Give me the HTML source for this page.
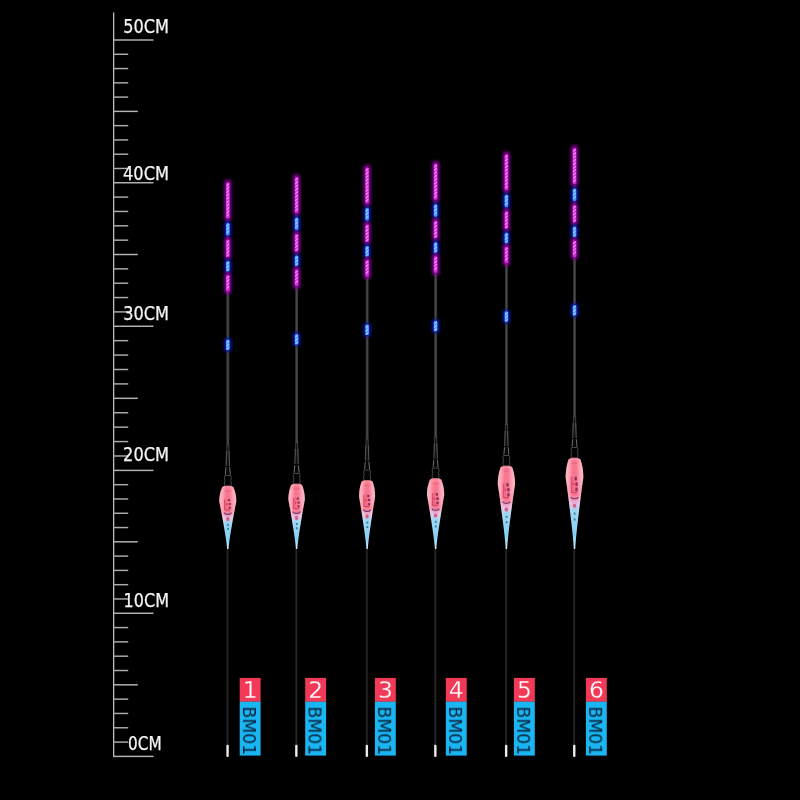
<!DOCTYPE html>
<html><head><meta charset="utf-8"><style>
html,body{margin:0;padding:0;background:#000;width:800px;height:800px;overflow:hidden}
svg{display:block}
text{will-change:transform}
.rl{font-family:"DejaVu Sans","Liberation Sans",sans-serif;font-stretch:condensed;font-size:19px;fill:#f4f4f4;stroke:#f4f4f4;stroke-width:0.25px}
.num{font-family:"DejaVu Sans","Liberation Sans",sans-serif;font-size:23.4px;fill:#fff;stroke:#f23a58;stroke-width:0.3px}
.bm{font-family:"DejaVu Sans","Liberation Sans",sans-serif;font-size:17px;fill:#06213a}
</style></head><body>
<svg width="800" height="800" viewBox="0 0 800 800">
<defs>
<filter id="gl" x="-100%" y="-50%" width="300%" height="200%"><feGaussianBlur stdDeviation="1.4"/></filter>
<filter id="sb" x="-50%" y="-20%" width="200%" height="140%"><feGaussianBlur stdDeviation="0.35"/></filter>
<linearGradient id="stemg" x1="0" y1="0" x2="1" y2="0"><stop offset="0" stop-color="#050505"/><stop offset="0.28" stop-color="#363636"/><stop offset="0.5" stop-color="#4c4c4c"/><stop offset="0.72" stop-color="#3c3c3c"/><stop offset="1" stop-color="#050505"/></linearGradient>
<linearGradient id="tailg" x1="0" y1="0" x2="1" y2="0"><stop offset="0" stop-color="#050505"/><stop offset="0.35" stop-color="#222"/><stop offset="0.55" stop-color="#2a2a2a"/><stop offset="1" stop-color="#050505"/></linearGradient>
<linearGradient id="bodyh" x1="0" y1="0" x2="1" y2="0"><stop offset="0" stop-color="#fff" stop-opacity="0.5"/><stop offset="0.18" stop-color="#fff" stop-opacity="0.38"/><stop offset="0.4" stop-color="#fff" stop-opacity="0.02"/><stop offset="0.6" stop-color="#fff" stop-opacity="0.02"/><stop offset="0.82" stop-color="#fff" stop-opacity="0.38"/><stop offset="1" stop-color="#fff" stop-opacity="0.5"/></linearGradient>
<linearGradient id="bodyg0" x1="0" y1="486" x2="0" y2="549" gradientUnits="userSpaceOnUse"><stop offset="0" stop-color="#f87890"/><stop offset="0.4" stop-color="#f86c88"/><stop offset="0.5" stop-color="#e4b4e0"/><stop offset="0.58" stop-color="#98d4f4"/><stop offset="0.85" stop-color="#84d0f4"/><stop offset="1" stop-color="#d0f0fa"/></linearGradient><linearGradient id="bodyg1" x1="0" y1="484" x2="0" y2="549" gradientUnits="userSpaceOnUse"><stop offset="0" stop-color="#f87890"/><stop offset="0.4" stop-color="#f86c88"/><stop offset="0.5" stop-color="#e4b4e0"/><stop offset="0.58" stop-color="#98d4f4"/><stop offset="0.85" stop-color="#84d0f4"/><stop offset="1" stop-color="#d0f0fa"/></linearGradient><linearGradient id="bodyg2" x1="0" y1="480.5" x2="0" y2="549" gradientUnits="userSpaceOnUse"><stop offset="0" stop-color="#f87890"/><stop offset="0.4" stop-color="#f86c88"/><stop offset="0.5" stop-color="#e4b4e0"/><stop offset="0.58" stop-color="#98d4f4"/><stop offset="0.85" stop-color="#84d0f4"/><stop offset="1" stop-color="#d0f0fa"/></linearGradient><linearGradient id="bodyg3" x1="0" y1="478.5" x2="0" y2="549" gradientUnits="userSpaceOnUse"><stop offset="0" stop-color="#f87890"/><stop offset="0.4" stop-color="#f86c88"/><stop offset="0.5" stop-color="#e4b4e0"/><stop offset="0.58" stop-color="#98d4f4"/><stop offset="0.85" stop-color="#84d0f4"/><stop offset="1" stop-color="#d0f0fa"/></linearGradient><linearGradient id="bodyg4" x1="0" y1="466" x2="0" y2="549" gradientUnits="userSpaceOnUse"><stop offset="0" stop-color="#f87890"/><stop offset="0.4" stop-color="#f86c88"/><stop offset="0.5" stop-color="#e4b4e0"/><stop offset="0.58" stop-color="#98d4f4"/><stop offset="0.85" stop-color="#84d0f4"/><stop offset="1" stop-color="#d0f0fa"/></linearGradient><linearGradient id="bodyg5" x1="0" y1="458" x2="0" y2="549" gradientUnits="userSpaceOnUse"><stop offset="0" stop-color="#f87890"/><stop offset="0.4" stop-color="#f86c88"/><stop offset="0.5" stop-color="#e4b4e0"/><stop offset="0.58" stop-color="#98d4f4"/><stop offset="0.85" stop-color="#84d0f4"/><stop offset="1" stop-color="#d0f0fa"/></linearGradient>
</defs>
<rect width="800" height="800" fill="#000"/>
<rect x="113" y="12.5" width="1.3" height="744.6" fill="#bdbdbd"/>
<rect x="113" y="39.28" width="40.5" height="1.45" fill="#b4b4b4"/>
<rect x="113" y="53.55" width="15.2" height="1.45" fill="#acacac"/>
<rect x="113" y="67.83" width="15.2" height="1.45" fill="#acacac"/>
<rect x="113" y="82.11" width="15.2" height="1.45" fill="#acacac"/>
<rect x="113" y="96.38" width="15.2" height="1.45" fill="#acacac"/>
<rect x="113" y="110.66" width="24.8" height="1.45" fill="#b4b4b4"/>
<rect x="113" y="124.93" width="15.2" height="1.45" fill="#acacac"/>
<rect x="113" y="139.21" width="15.2" height="1.45" fill="#acacac"/>
<rect x="113" y="153.48" width="15.2" height="1.45" fill="#acacac"/>
<rect x="113" y="167.75" width="15.2" height="1.45" fill="#acacac"/>
<rect x="113" y="182.03" width="40.5" height="1.45" fill="#b4b4b4"/>
<rect x="113" y="196.38" width="15.2" height="1.45" fill="#acacac"/>
<rect x="113" y="210.73" width="15.2" height="1.45" fill="#acacac"/>
<rect x="113" y="225.08" width="15.2" height="1.45" fill="#acacac"/>
<rect x="113" y="239.43" width="15.2" height="1.45" fill="#acacac"/>
<rect x="113" y="253.78" width="24.8" height="1.45" fill="#b4b4b4"/>
<rect x="113" y="268.13" width="15.2" height="1.45" fill="#acacac"/>
<rect x="113" y="282.48" width="15.2" height="1.45" fill="#acacac"/>
<rect x="113" y="296.83" width="15.2" height="1.45" fill="#acacac"/>
<rect x="113" y="311.18" width="15.2" height="1.45" fill="#acacac"/>
<rect x="113" y="325.53" width="40.5" height="1.45" fill="#b4b4b4"/>
<rect x="113" y="339.94" width="15.2" height="1.45" fill="#acacac"/>
<rect x="113" y="354.36" width="15.2" height="1.45" fill="#acacac"/>
<rect x="113" y="368.77" width="15.2" height="1.45" fill="#acacac"/>
<rect x="113" y="383.19" width="15.2" height="1.45" fill="#acacac"/>
<rect x="113" y="397.6" width="24.8" height="1.45" fill="#b4b4b4"/>
<rect x="113" y="412.02" width="15.2" height="1.45" fill="#acacac"/>
<rect x="113" y="426.43" width="15.2" height="1.45" fill="#acacac"/>
<rect x="113" y="440.85" width="15.2" height="1.45" fill="#acacac"/>
<rect x="113" y="455.26" width="15.2" height="1.45" fill="#acacac"/>
<rect x="113" y="469.68" width="40.5" height="1.45" fill="#b4b4b4"/>
<rect x="113" y="483.96" width="15.2" height="1.45" fill="#acacac"/>
<rect x="113" y="498.25" width="15.2" height="1.45" fill="#acacac"/>
<rect x="113" y="512.53" width="15.2" height="1.45" fill="#acacac"/>
<rect x="113" y="526.82" width="15.2" height="1.45" fill="#acacac"/>
<rect x="113" y="541.11" width="24.8" height="1.45" fill="#b4b4b4"/>
<rect x="113" y="555.39" width="15.2" height="1.45" fill="#acacac"/>
<rect x="113" y="569.67" width="15.2" height="1.45" fill="#acacac"/>
<rect x="113" y="583.96" width="15.2" height="1.45" fill="#acacac"/>
<rect x="113" y="598.24" width="15.2" height="1.45" fill="#acacac"/>
<rect x="113" y="612.53" width="40.5" height="1.45" fill="#b4b4b4"/>
<rect x="113" y="626.85" width="15.2" height="1.45" fill="#acacac"/>
<rect x="113" y="641.16" width="15.2" height="1.45" fill="#acacac"/>
<rect x="113" y="655.47" width="15.2" height="1.45" fill="#acacac"/>
<rect x="113" y="669.79" width="15.2" height="1.45" fill="#acacac"/>
<rect x="113" y="684.11" width="24.8" height="1.45" fill="#b4b4b4"/>
<rect x="113" y="698.42" width="15.2" height="1.45" fill="#acacac"/>
<rect x="113" y="712.73" width="15.2" height="1.45" fill="#acacac"/>
<rect x="113" y="727.05" width="15.2" height="1.45" fill="#acacac"/>
<rect x="113" y="741.37" width="15.2" height="1.45" fill="#acacac"/>
<rect x="113" y="755.68" width="40.5" height="1.45" fill="#b4b4b4"/>
<text x="123.2" y="33" textLength="45.8" lengthAdjust="spacingAndGlyphs" class="rl">50CM</text>
<text x="123" y="179.5" textLength="46" lengthAdjust="spacingAndGlyphs" class="rl">40CM</text>
<text x="123.2" y="319.5" textLength="45.8" lengthAdjust="spacingAndGlyphs" class="rl">30CM</text>
<text x="123.1" y="460.6" textLength="45.9" lengthAdjust="spacingAndGlyphs" class="rl">20CM</text>
<text x="123.6" y="607.1" textLength="45.4" lengthAdjust="spacingAndGlyphs" class="rl">10CM</text>
<text x="128.1" y="749.6" textLength="33.7" lengthAdjust="spacingAndGlyphs" class="rl">0CM</text>
<g><rect x="226.1" y="549" width="2.8" height="196" fill="url(#tailg)"/><rect x="226.35" y="744.7" width="2.4" height="12.3" rx="1.1" fill="#ecece8"/><rect x="225.9" y="291.5" width="3.8" height="153.5" fill="url(#stemg)"/><rect x="226.5" y="182.5" width="2.6" height="109" fill="#2a1a2a"/><path d="M225.9 444 L229.7 444 L230.1 466 L225.5 466 Z" fill="url(#stemg)"/><path d="M227.4 445 L228.2 445 L229.3 466 L226.3 466 Z" fill="#121212"/><path d="M226.5 451 L226 466 M229.1 451 L229.6 466" stroke="#7a7a7a" stroke-width="0.6" fill="none"/><path d="M225.6 466.4 L230 466.4 L230.6 475 L225 475 Z" fill="#070707"/><path d="M226 467.2 L225.3 474.7 M229.6 467.2 L230.3 474.7" stroke="#9a9a9a" stroke-width="0.7" fill="none"/><path d="M225 475.5 C224.2 476.5 224.2 479.2 225.1 480.3 C224.2 481.4 224.2 484.5 224.8 486.2 L230.8 486.2 C231.4 484.5 231.4 481.4 230.5 480.3 C231.4 479.2 231.4 476.5 230.6 475.5 Z" fill="#030303" stroke="#777" stroke-width="0.6"/><path d="M222.27 487.11 C223 486.2 225.3 485.7 227.8 485.7 C230.3 485.7 232.6 486.2 233.33 487.11 L233.81 488.21 L234.24 489.32 L234.63 490.43 L234.98 491.54 L235.28 492.64 L235.54 493.75 L235.76 494.86 L235.94 495.96 L236.08 497.07 L236.18 498.18 L236.25 499.29 L236.29 500.39 L236.3 501.5 L235.71 504.47 L235.13 507.44 L234.56 510.41 L233.99 513.38 L233.44 516.34 L232.9 519.31 L232.37 522.28 L231.85 525.25 L231.35 528.22 L230.86 531.19 L230.39 534.16 L229.94 537.12 L229.51 540.09 L229.11 543.06 L228.76 546.03 L228.5 549 L227.1 549 L226.84 546.03 L226.49 543.06 L226.09 540.09 L225.66 537.12 L225.21 534.16 L224.74 531.19 L224.25 528.22 L223.75 525.25 L223.23 522.28 L222.7 519.31 L222.16 516.34 L221.61 513.38 L221.04 510.41 L220.47 507.44 L219.89 504.47 L219.3 501.5 L219.31 500.39 L219.35 499.29 L219.42 498.18 L219.52 497.07 L219.66 495.96 L219.84 494.86 L220.06 493.75 L220.32 492.64 L220.62 491.54 L220.97 490.43 L221.36 489.32 L221.79 488.21 Z" fill="url(#bodyg0)"/><path d="M222.27 487.11 C223 486.2 225.3 485.7 227.8 485.7 C230.3 485.7 232.6 486.2 233.33 487.11 L233.81 488.21 L234.24 489.32 L234.63 490.43 L234.98 491.54 L235.28 492.64 L235.54 493.75 L235.76 494.86 L235.94 495.96 L236.08 497.07 L236.18 498.18 L236.25 499.29 L236.29 500.39 L236.3 501.5 L235.71 504.47 L235.13 507.44 L234.56 510.41 L233.99 513.38 L233.44 516.34 L232.9 519.31 L232.37 522.28 L231.85 525.25 L231.35 528.22 L230.86 531.19 L230.39 534.16 L229.94 537.12 L229.51 540.09 L229.11 543.06 L228.76 546.03 L228.5 549 L227.1 549 L226.84 546.03 L226.49 543.06 L226.09 540.09 L225.66 537.12 L225.21 534.16 L224.74 531.19 L224.25 528.22 L223.75 525.25 L223.23 522.28 L222.7 519.31 L222.16 516.34 L221.61 513.38 L221.04 510.41 L220.47 507.44 L219.89 504.47 L219.3 501.5 L219.31 500.39 L219.35 499.29 L219.42 498.18 L219.52 497.07 L219.66 495.96 L219.84 494.86 L220.06 493.75 L220.32 492.64 L220.62 491.54 L220.97 490.43 L221.36 489.32 L221.79 488.21 Z" fill="url(#bodyh)"/><rect x="223.6" y="487.2" width="8.4" height="0.6" fill="#ffd0c0" opacity="0.5"/><rect x="224.8" y="490.6" width="6" height="1.1" fill="#b84858" opacity="0.35"/><rect x="224.4" y="498.6" width="2.6" height="11.34" fill="#f05070" opacity="0.35"/><path d="M224.6 499.6 V509.94 H230.3" stroke="#b02848" stroke-width="0.7" fill="none" opacity="0.8"/><rect x="226" y="503.14" width="1.4" height="2.4" fill="#e02848" opacity="0.7"/><rect x="227.8" y="499.1" width="2.4" height="2.18" rx="0.8" fill="#6a1e50" opacity="0.75"/><rect x="228.6" y="502.88" width="2.4" height="2.18" rx="0.8" fill="#6a1e50" opacity="0.75"/><rect x="228.6" y="506.66" width="2.4" height="2.18" rx="0.8" fill="#6a1e50" opacity="0.75"/><path d="M224 512.72 Q225.8 514.92 227.8 514.32 Q229.8 514.92 231.6 512.72" stroke="#5a1e4e" stroke-width="1.2" fill="none" opacity="0.8"/><ellipse cx="227.8" cy="519.08" rx="1.6" ry="2.1" fill="#e04a64" opacity="0.85"/><rect x="227.1" y="523.8" width="1.8" height="2" fill="#1a5a78" opacity="0.7"/><rect x="227.1" y="527.89" width="1.8" height="2" fill="#1a5a78" opacity="0.7"/><rect x="224.1" y="179.5" width="7.4" height="42" rx="3.7" fill="#9000a0" opacity="0.85" filter="url(#gl)"/><rect x="226" y="182.5" width="3.6" height="36" rx="1.5" fill="#d030d8"/><path d="M226.9 185.6 L228.7 183.8 M226.9 189 L228.7 187.2 M226.9 192.4 L228.7 190.6 M226.9 195.8 L228.7 194 M226.9 199.2 L228.7 197.4 M226.9 202.6 L228.7 200.8 M226.9 206 L228.7 204.2 M226.9 209.4 L228.7 207.6 M226.9 212.8 L228.7 211 M226.9 216.2 L228.7 214.4" stroke="#ffa0ff" stroke-width="1.2" stroke-linecap="round" fill="none" opacity="0.85" filter="url(#sb)"/><rect x="224" y="221" width="7.6" height="16.5" rx="3.8" fill="#0c14b0" opacity="0.9" filter="url(#gl)"/><rect x="226" y="223" width="3.6" height="12.5" rx="1.5" fill="#4896ff"/><path d="M226.9 226.1 L228.7 224.3 M226.9 229.5 L228.7 227.7 M226.9 232.9 L228.7 231.1" stroke="#a8dcff" stroke-width="1.2" stroke-linecap="round" fill="none" opacity="0.85" filter="url(#sb)"/><rect x="224.1" y="236.5" width="7.4" height="23.5" rx="3.7" fill="#9000a0" opacity="0.85" filter="url(#gl)"/><rect x="226" y="239.5" width="3.6" height="17.5" rx="1.5" fill="#d030d8"/><path d="M226.9 242.6 L228.7 240.8 M226.9 246 L228.7 244.2 M226.9 249.4 L228.7 247.6 M226.9 252.8 L228.7 251 M226.9 256.2 L228.7 254.4" stroke="#ffa0ff" stroke-width="1.2" stroke-linecap="round" fill="none" opacity="0.85" filter="url(#sb)"/><rect x="224" y="259" width="7.6" height="14.5" rx="3.8" fill="#0c14b0" opacity="0.9" filter="url(#gl)"/><rect x="226" y="261" width="3.6" height="10.5" rx="1.5" fill="#4896ff"/><path d="M226.9 264.1 L228.7 262.3 M226.9 267.5 L228.7 265.7 M226.9 270.9 L228.7 269.1" stroke="#a8dcff" stroke-width="1.2" stroke-linecap="round" fill="none" opacity="0.85" filter="url(#sb)"/><rect x="224.1" y="272" width="7.4" height="22.5" rx="3.7" fill="#9000a0" opacity="0.85" filter="url(#gl)"/><rect x="226" y="275" width="3.6" height="16.5" rx="1.5" fill="#d030d8"/><path d="M226.9 278.1 L228.7 276.3 M226.9 281.5 L228.7 279.7 M226.9 284.9 L228.7 283.1 M226.9 288.3 L228.7 286.5" stroke="#ffa0ff" stroke-width="1.2" stroke-linecap="round" fill="none" opacity="0.85" filter="url(#sb)"/><rect x="224" y="337.5" width="7.6" height="14.5" rx="3.8" fill="#0c14b0" opacity="0.9" filter="url(#gl)"/><rect x="226" y="339.5" width="3.6" height="10.5" rx="1.5" fill="#4896ff"/><path d="M226.9 342.6 L228.7 340.8 M226.9 346 L228.7 344.2 M226.9 349.4 L228.7 347.6" stroke="#a8dcff" stroke-width="1.2" stroke-linecap="round" fill="none" opacity="0.85" filter="url(#sb)"/></g>
<g><rect x="294.9" y="549" width="2.8" height="196" fill="url(#tailg)"/><rect x="295.15" y="744.7" width="2.4" height="12.3" rx="1.1" fill="#ecece8"/><rect x="294.7" y="286" width="3.8" height="157" fill="url(#stemg)"/><rect x="295.3" y="177" width="2.6" height="109" fill="#2a1a2a"/><path d="M294.7 442 L298.5 442 L298.9 464 L294.3 464 Z" fill="url(#stemg)"/><path d="M296.2 443 L297 443 L298.1 464 L295.1 464 Z" fill="#121212"/><path d="M295.3 449 L294.8 464 M297.9 449 L298.4 464" stroke="#7a7a7a" stroke-width="0.6" fill="none"/><path d="M294.4 464.4 L298.8 464.4 L299.4 473 L293.8 473 Z" fill="#070707"/><path d="M294.8 465.2 L294.1 472.7 M298.4 465.2 L299.1 472.7" stroke="#9a9a9a" stroke-width="0.7" fill="none"/><path d="M293.8 473.5 C293 474.5 293 477.2 293.9 478.3 C293 479.4 293 482.5 293.6 484.2 L299.6 484.2 C300.2 482.5 300.2 479.4 299.3 478.3 C300.2 477.2 300.2 474.5 299.4 473.5 Z" fill="#030303" stroke="#777" stroke-width="0.6"/><path d="M291.09 485.13 C291.77 484.2 294.1 483.7 296.6 483.7 C299.1 483.7 301.43 484.2 302.11 485.13 L302.54 486.26 L302.94 487.39 L303.29 488.51 L303.6 489.64 L303.87 490.77 L304.11 491.9 L304.31 493.03 L304.47 494.16 L304.6 495.29 L304.69 496.41 L304.76 497.54 L304.79 498.67 L304.8 499.8 L304.23 502.88 L303.67 505.95 L303.12 509.03 L302.58 512.1 L302.05 515.17 L301.53 518.25 L301.02 521.33 L300.52 524.4 L300.03 527.48 L299.56 530.55 L299.11 533.62 L298.68 536.7 L298.27 539.77 L297.89 542.85 L297.55 545.92 L297.3 549 L295.9 549 L295.65 545.92 L295.31 542.85 L294.93 539.77 L294.52 536.7 L294.09 533.62 L293.64 530.55 L293.17 527.48 L292.68 524.4 L292.18 521.33 L291.67 518.25 L291.15 515.17 L290.62 512.1 L290.08 509.03 L289.53 505.95 L288.97 502.88 L288.4 499.8 L288.41 498.67 L288.44 497.54 L288.51 496.41 L288.6 495.29 L288.73 494.16 L288.89 493.03 L289.09 491.9 L289.33 490.77 L289.6 489.64 L289.91 488.51 L290.26 487.39 L290.66 486.26 Z" fill="url(#bodyg1)"/><path d="M291.09 485.13 C291.77 484.2 294.1 483.7 296.6 483.7 C299.1 483.7 301.43 484.2 302.11 485.13 L302.54 486.26 L302.94 487.39 L303.29 488.51 L303.6 489.64 L303.87 490.77 L304.11 491.9 L304.31 493.03 L304.47 494.16 L304.6 495.29 L304.69 496.41 L304.76 497.54 L304.79 498.67 L304.8 499.8 L304.23 502.88 L303.67 505.95 L303.12 509.03 L302.58 512.1 L302.05 515.17 L301.53 518.25 L301.02 521.33 L300.52 524.4 L300.03 527.48 L299.56 530.55 L299.11 533.62 L298.68 536.7 L298.27 539.77 L297.89 542.85 L297.55 545.92 L297.3 549 L295.9 549 L295.65 545.92 L295.31 542.85 L294.93 539.77 L294.52 536.7 L294.09 533.62 L293.64 530.55 L293.17 527.48 L292.68 524.4 L292.18 521.33 L291.67 518.25 L291.15 515.17 L290.62 512.1 L290.08 509.03 L289.53 505.95 L288.97 502.88 L288.4 499.8 L288.41 498.67 L288.44 497.54 L288.51 496.41 L288.6 495.29 L288.73 494.16 L288.89 493.03 L289.09 491.9 L289.33 490.77 L289.6 489.64 L289.91 488.51 L290.26 487.39 L290.66 486.26 Z" fill="url(#bodyh)"/><rect x="292.37" y="485.2" width="8.46" height="0.6" fill="#ffd0c0" opacity="0.5"/><rect x="293.6" y="488.6" width="6" height="1.1" fill="#b84858" opacity="0.35"/><rect x="293.2" y="497" width="2.6" height="11.7" fill="#f05070" opacity="0.35"/><path d="M293.4 498 V508.7 H299.1" stroke="#b02848" stroke-width="0.7" fill="none" opacity="0.8"/><rect x="294.8" y="501.68" width="1.4" height="2.4" fill="#e02848" opacity="0.7"/><rect x="296.6" y="497.5" width="2.4" height="2.3" rx="0.8" fill="#6a1e50" opacity="0.75"/><rect x="297.4" y="501.4" width="2.4" height="2.3" rx="0.8" fill="#6a1e50" opacity="0.75"/><rect x="297.4" y="505.3" width="2.4" height="2.3" rx="0.8" fill="#6a1e50" opacity="0.75"/><path d="M292.8 511.6 Q294.6 513.8 296.6 513.2 Q298.6 513.8 300.4 511.6" stroke="#5a1e4e" stroke-width="1.2" fill="none" opacity="0.8"/><ellipse cx="296.6" cy="518.12" rx="1.6" ry="2.1" fill="#e04a64" opacity="0.85"/><rect x="295.9" y="523" width="1.8" height="2" fill="#1a5a78" opacity="0.7"/><rect x="295.9" y="527.23" width="1.8" height="2" fill="#1a5a78" opacity="0.7"/><rect x="292.9" y="174" width="7.4" height="42" rx="3.7" fill="#9000a0" opacity="0.85" filter="url(#gl)"/><rect x="294.8" y="177" width="3.6" height="36" rx="1.5" fill="#d030d8"/><path d="M295.7 180.1 L297.5 178.3 M295.7 183.5 L297.5 181.7 M295.7 186.9 L297.5 185.1 M295.7 190.3 L297.5 188.5 M295.7 193.7 L297.5 191.9 M295.7 197.1 L297.5 195.3 M295.7 200.5 L297.5 198.7 M295.7 203.9 L297.5 202.1 M295.7 207.3 L297.5 205.5 M295.7 210.7 L297.5 208.9" stroke="#ffa0ff" stroke-width="1.2" stroke-linecap="round" fill="none" opacity="0.85" filter="url(#sb)"/><rect x="292.8" y="215.5" width="7.6" height="16.5" rx="3.8" fill="#0c14b0" opacity="0.9" filter="url(#gl)"/><rect x="294.8" y="217.5" width="3.6" height="12.5" rx="1.5" fill="#4896ff"/><path d="M295.7 220.6 L297.5 218.8 M295.7 224 L297.5 222.2 M295.7 227.4 L297.5 225.6" stroke="#a8dcff" stroke-width="1.2" stroke-linecap="round" fill="none" opacity="0.85" filter="url(#sb)"/><rect x="292.9" y="231" width="7.4" height="23.5" rx="3.7" fill="#9000a0" opacity="0.85" filter="url(#gl)"/><rect x="294.8" y="234" width="3.6" height="17.5" rx="1.5" fill="#d030d8"/><path d="M295.7 237.1 L297.5 235.3 M295.7 240.5 L297.5 238.7 M295.7 243.9 L297.5 242.1 M295.7 247.3 L297.5 245.5 M295.7 250.7 L297.5 248.9" stroke="#ffa0ff" stroke-width="1.2" stroke-linecap="round" fill="none" opacity="0.85" filter="url(#sb)"/><rect x="292.8" y="253.5" width="7.6" height="14.5" rx="3.8" fill="#0c14b0" opacity="0.9" filter="url(#gl)"/><rect x="294.8" y="255.5" width="3.6" height="10.5" rx="1.5" fill="#4896ff"/><path d="M295.7 258.6 L297.5 256.8 M295.7 262 L297.5 260.2 M295.7 265.4 L297.5 263.6" stroke="#a8dcff" stroke-width="1.2" stroke-linecap="round" fill="none" opacity="0.85" filter="url(#sb)"/><rect x="292.9" y="266.5" width="7.4" height="22.5" rx="3.7" fill="#9000a0" opacity="0.85" filter="url(#gl)"/><rect x="294.8" y="269.5" width="3.6" height="16.5" rx="1.5" fill="#d030d8"/><path d="M295.7 272.6 L297.5 270.8 M295.7 276 L297.5 274.2 M295.7 279.4 L297.5 277.6 M295.7 282.8 L297.5 281" stroke="#ffa0ff" stroke-width="1.2" stroke-linecap="round" fill="none" opacity="0.85" filter="url(#sb)"/><rect x="292.8" y="332" width="7.6" height="14.5" rx="3.8" fill="#0c14b0" opacity="0.9" filter="url(#gl)"/><rect x="294.8" y="334" width="3.6" height="10.5" rx="1.5" fill="#4896ff"/><path d="M295.7 337.1 L297.5 335.3 M295.7 340.5 L297.5 338.7 M295.7 343.9 L297.5 342.1" stroke="#a8dcff" stroke-width="1.2" stroke-linecap="round" fill="none" opacity="0.85" filter="url(#sb)"/></g>
<g><rect x="365.4" y="549" width="2.8" height="196" fill="url(#tailg)"/><rect x="365.65" y="744.7" width="2.4" height="12.3" rx="1.1" fill="#ecece8"/><rect x="365.2" y="276.5" width="3.8" height="163" fill="url(#stemg)"/><rect x="365.8" y="167.5" width="2.6" height="109" fill="#2a1a2a"/><path d="M365.2 438.5 L369 438.5 L369.4 460.5 L364.8 460.5 Z" fill="url(#stemg)"/><path d="M366.7 439.5 L367.5 439.5 L368.6 460.5 L365.6 460.5 Z" fill="#121212"/><path d="M365.8 445.5 L365.3 460.5 M368.4 445.5 L368.9 460.5" stroke="#7a7a7a" stroke-width="0.6" fill="none"/><path d="M364.9 460.9 L369.3 460.9 L369.9 469.5 L364.3 469.5 Z" fill="#070707"/><path d="M365.3 461.7 L364.6 469.2 M368.9 461.7 L369.6 469.2" stroke="#9a9a9a" stroke-width="0.7" fill="none"/><path d="M364.3 470 C363.5 471 363.5 473.7 364.4 474.8 C363.5 475.9 363.5 479 364.1 480.7 L370.1 480.7 C370.7 479 370.7 475.9 369.8 474.8 C370.7 473.7 370.7 471 369.9 470 Z" fill="#030303" stroke="#777" stroke-width="0.6"/><path d="M361.58 481.67 C362.22 480.7 364.6 480.2 367.1 480.2 C369.6 480.2 371.98 480.7 372.62 481.67 L373.02 482.83 L373.38 484 L373.71 485.16 L374 486.33 L374.25 487.5 L374.47 488.66 L374.65 489.83 L374.8 490.99 L374.91 492.16 L375 493.33 L375.06 494.49 L375.09 495.66 L375.1 496.82 L374.55 500.09 L374 503.35 L373.47 506.61 L372.94 509.87 L372.42 513.13 L371.91 516.39 L371.42 519.65 L370.93 522.91 L370.46 526.17 L370 529.43 L369.56 532.7 L369.14 535.96 L368.74 539.22 L368.37 542.48 L368.04 545.74 L367.8 549 L366.4 549 L366.16 545.74 L365.83 542.48 L365.46 539.22 L365.06 535.96 L364.64 532.7 L364.2 529.43 L363.74 526.17 L363.27 522.91 L362.78 519.65 L362.29 516.39 L361.78 513.13 L361.26 509.87 L360.73 506.61 L360.2 503.35 L359.65 500.09 L359.1 496.82 L359.11 495.66 L359.14 494.49 L359.2 493.33 L359.29 492.16 L359.4 490.99 L359.55 489.83 L359.73 488.66 L359.95 487.5 L360.2 486.33 L360.49 485.16 L360.82 484 L361.18 482.83 Z" fill="url(#bodyg2)"/><path d="M361.58 481.67 C362.22 480.7 364.6 480.2 367.1 480.2 C369.6 480.2 371.98 480.7 372.62 481.67 L373.02 482.83 L373.38 484 L373.71 485.16 L374 486.33 L374.25 487.5 L374.47 488.66 L374.65 489.83 L374.8 490.99 L374.91 492.16 L375 493.33 L375.06 494.49 L375.09 495.66 L375.1 496.82 L374.55 500.09 L374 503.35 L373.47 506.61 L372.94 509.87 L372.42 513.13 L371.91 516.39 L371.42 519.65 L370.93 522.91 L370.46 526.17 L370 529.43 L369.56 532.7 L369.14 535.96 L368.74 539.22 L368.37 542.48 L368.04 545.74 L367.8 549 L366.4 549 L366.16 545.74 L365.83 542.48 L365.46 539.22 L365.06 535.96 L364.64 532.7 L364.2 529.43 L363.74 526.17 L363.27 522.91 L362.78 519.65 L362.29 516.39 L361.78 513.13 L361.26 509.87 L360.73 506.61 L360.2 503.35 L359.65 500.09 L359.1 496.82 L359.11 495.66 L359.14 494.49 L359.2 493.33 L359.29 492.16 L359.4 490.99 L359.55 489.83 L359.73 488.66 L359.95 487.5 L360.2 486.33 L360.49 485.16 L360.82 484 L361.18 482.83 Z" fill="url(#bodyh)"/><rect x="362.82" y="481.7" width="8.56" height="0.6" fill="#ffd0c0" opacity="0.5"/><rect x="364.1" y="485.1" width="6" height="1.1" fill="#b84858" opacity="0.35"/><rect x="363.7" y="494.2" width="2.6" height="12.33" fill="#f05070" opacity="0.35"/><path d="M363.9 495.2 V506.53 H369.6" stroke="#b02848" stroke-width="0.7" fill="none" opacity="0.8"/><rect x="365.3" y="499.13" width="1.4" height="2.4" fill="#e02848" opacity="0.7"/><rect x="367.1" y="494.7" width="2.4" height="2.51" rx="0.8" fill="#6a1e50" opacity="0.75"/><rect x="367.9" y="498.81" width="2.4" height="2.51" rx="0.8" fill="#6a1e50" opacity="0.75"/><rect x="367.9" y="502.92" width="2.4" height="2.51" rx="0.8" fill="#6a1e50" opacity="0.75"/><path d="M363.3 509.64 Q365.1 511.84 367.1 511.24 Q369.1 511.84 370.9 509.64" stroke="#5a1e4e" stroke-width="1.2" fill="none" opacity="0.8"/><ellipse cx="367.1" cy="516.46" rx="1.6" ry="2.1" fill="#e04a64" opacity="0.85"/><rect x="366.4" y="521.6" width="1.8" height="2" fill="#1a5a78" opacity="0.7"/><rect x="366.4" y="526.05" width="1.8" height="2" fill="#1a5a78" opacity="0.7"/><rect x="363.4" y="164.5" width="7.4" height="42" rx="3.7" fill="#9000a0" opacity="0.85" filter="url(#gl)"/><rect x="365.3" y="167.5" width="3.6" height="36" rx="1.5" fill="#d030d8"/><path d="M366.2 170.6 L368 168.8 M366.2 174 L368 172.2 M366.2 177.4 L368 175.6 M366.2 180.8 L368 179 M366.2 184.2 L368 182.4 M366.2 187.6 L368 185.8 M366.2 191 L368 189.2 M366.2 194.4 L368 192.6 M366.2 197.8 L368 196 M366.2 201.2 L368 199.4" stroke="#ffa0ff" stroke-width="1.2" stroke-linecap="round" fill="none" opacity="0.85" filter="url(#sb)"/><rect x="363.3" y="206" width="7.6" height="16.5" rx="3.8" fill="#0c14b0" opacity="0.9" filter="url(#gl)"/><rect x="365.3" y="208" width="3.6" height="12.5" rx="1.5" fill="#4896ff"/><path d="M366.2 211.1 L368 209.3 M366.2 214.5 L368 212.7 M366.2 217.9 L368 216.1" stroke="#a8dcff" stroke-width="1.2" stroke-linecap="round" fill="none" opacity="0.85" filter="url(#sb)"/><rect x="363.4" y="221.5" width="7.4" height="23.5" rx="3.7" fill="#9000a0" opacity="0.85" filter="url(#gl)"/><rect x="365.3" y="224.5" width="3.6" height="17.5" rx="1.5" fill="#d030d8"/><path d="M366.2 227.6 L368 225.8 M366.2 231 L368 229.2 M366.2 234.4 L368 232.6 M366.2 237.8 L368 236 M366.2 241.2 L368 239.4" stroke="#ffa0ff" stroke-width="1.2" stroke-linecap="round" fill="none" opacity="0.85" filter="url(#sb)"/><rect x="363.3" y="244" width="7.6" height="14.5" rx="3.8" fill="#0c14b0" opacity="0.9" filter="url(#gl)"/><rect x="365.3" y="246" width="3.6" height="10.5" rx="1.5" fill="#4896ff"/><path d="M366.2 249.1 L368 247.3 M366.2 252.5 L368 250.7 M366.2 255.9 L368 254.1" stroke="#a8dcff" stroke-width="1.2" stroke-linecap="round" fill="none" opacity="0.85" filter="url(#sb)"/><rect x="363.4" y="257" width="7.4" height="22.5" rx="3.7" fill="#9000a0" opacity="0.85" filter="url(#gl)"/><rect x="365.3" y="260" width="3.6" height="16.5" rx="1.5" fill="#d030d8"/><path d="M366.2 263.1 L368 261.3 M366.2 266.5 L368 264.7 M366.2 269.9 L368 268.1 M366.2 273.3 L368 271.5" stroke="#ffa0ff" stroke-width="1.2" stroke-linecap="round" fill="none" opacity="0.85" filter="url(#sb)"/><rect x="363.3" y="322.5" width="7.6" height="14.5" rx="3.8" fill="#0c14b0" opacity="0.9" filter="url(#gl)"/><rect x="365.3" y="324.5" width="3.6" height="10.5" rx="1.5" fill="#4896ff"/><path d="M366.2 327.6 L368 325.8 M366.2 331 L368 329.2 M366.2 334.4 L368 332.6" stroke="#a8dcff" stroke-width="1.2" stroke-linecap="round" fill="none" opacity="0.85" filter="url(#sb)"/></g>
<g><rect x="433.9" y="549" width="2.8" height="196" fill="url(#tailg)"/><rect x="434.15" y="744.7" width="2.4" height="12.3" rx="1.1" fill="#ecece8"/><rect x="433.7" y="272.75" width="3.8" height="164.75" fill="url(#stemg)"/><rect x="434.3" y="163.75" width="2.6" height="109" fill="#2a1a2a"/><path d="M433.7 436.5 L437.5 436.5 L437.9 458.5 L433.3 458.5 Z" fill="url(#stemg)"/><path d="M435.2 437.5 L436 437.5 L437.1 458.5 L434.1 458.5 Z" fill="#121212"/><path d="M434.3 443.5 L433.8 458.5 M436.9 443.5 L437.4 458.5" stroke="#7a7a7a" stroke-width="0.6" fill="none"/><path d="M433.4 458.9 L437.8 458.9 L438.4 467.5 L432.8 467.5 Z" fill="#070707"/><path d="M433.8 459.7 L433.1 467.2 M437.4 459.7 L438.1 467.2" stroke="#9a9a9a" stroke-width="0.7" fill="none"/><path d="M432.8 468 C432 469 432 471.7 432.9 472.8 C432 473.9 432 477 432.6 478.7 L438.6 478.7 C439.2 477 439.2 473.9 438.3 472.8 C439.2 471.7 439.2 469 438.4 468 Z" fill="#030303" stroke="#777" stroke-width="0.6"/><path d="M429.96 479.69 C430.69 478.7 433.1 478.2 435.6 478.2 C438.1 478.2 440.51 478.7 441.24 479.69 L441.72 480.88 L442.15 482.06 L442.54 483.25 L442.88 484.44 L443.18 485.62 L443.44 486.81 L443.66 488 L443.84 489.19 L443.98 490.38 L444.08 491.56 L444.15 492.75 L444.19 493.94 L444.2 495.12 L443.6 498.49 L443.01 501.86 L442.43 505.23 L441.86 508.59 L441.3 511.96 L440.76 515.33 L440.22 518.7 L439.69 522.06 L439.18 525.43 L438.69 528.8 L438.21 532.16 L437.75 535.53 L437.32 538.9 L436.92 542.27 L436.56 545.63 L436.3 549 L434.9 549 L434.64 545.63 L434.28 542.27 L433.88 538.9 L433.45 535.53 L432.99 532.16 L432.51 528.8 L432.02 525.43 L431.51 522.06 L430.98 518.7 L430.44 515.33 L429.9 511.96 L429.34 508.59 L428.77 505.23 L428.19 501.86 L427.6 498.49 L427 495.12 L427.01 493.94 L427.05 492.75 L427.12 491.56 L427.22 490.38 L427.36 489.19 L427.54 488 L427.76 486.81 L428.02 485.62 L428.32 484.44 L428.66 483.25 L429.05 482.06 L429.48 480.88 Z" fill="url(#bodyg3)"/><path d="M429.96 479.69 C430.69 478.7 433.1 478.2 435.6 478.2 C438.1 478.2 440.51 478.7 441.24 479.69 L441.72 480.88 L442.15 482.06 L442.54 483.25 L442.88 484.44 L443.18 485.62 L443.44 486.81 L443.66 488 L443.84 489.19 L443.98 490.38 L444.08 491.56 L444.15 492.75 L444.19 493.94 L444.2 495.12 L443.6 498.49 L443.01 501.86 L442.43 505.23 L441.86 508.59 L441.3 511.96 L440.76 515.33 L440.22 518.7 L439.69 522.06 L439.18 525.43 L438.69 528.8 L438.21 532.16 L437.75 535.53 L437.32 538.9 L436.92 542.27 L436.56 545.63 L436.3 549 L434.9 549 L434.64 545.63 L434.28 542.27 L433.88 538.9 L433.45 535.53 L432.99 532.16 L432.51 528.8 L432.02 525.43 L431.51 522.06 L430.98 518.7 L430.44 515.33 L429.9 511.96 L429.34 508.59 L428.77 505.23 L428.19 501.86 L427.6 498.49 L427 495.12 L427.01 493.94 L427.05 492.75 L427.12 491.56 L427.22 490.38 L427.36 489.19 L427.54 488 L427.76 486.81 L428.02 485.62 L428.32 484.44 L428.66 483.25 L429.05 482.06 L429.48 480.88 Z" fill="url(#bodyh)"/><rect x="431.29" y="479.7" width="8.62" height="0.6" fill="#ffd0c0" opacity="0.5"/><rect x="432.6" y="483.1" width="6" height="1.1" fill="#b84858" opacity="0.35"/><rect x="432.2" y="492.6" width="2.6" height="12.69" fill="#f05070" opacity="0.35"/><path d="M432.4 493.6 V505.29 H438.1" stroke="#b02848" stroke-width="0.7" fill="none" opacity="0.8"/><rect x="433.8" y="497.68" width="1.4" height="2.4" fill="#e02848" opacity="0.7"/><rect x="435.6" y="493.1" width="2.4" height="2.63" rx="0.8" fill="#6a1e50" opacity="0.75"/><rect x="436.4" y="497.33" width="2.4" height="2.63" rx="0.8" fill="#6a1e50" opacity="0.75"/><rect x="436.4" y="501.56" width="2.4" height="2.63" rx="0.8" fill="#6a1e50" opacity="0.75"/><path d="M431.8 508.52 Q433.6 510.72 435.6 510.12 Q437.6 510.72 439.4 508.52" stroke="#5a1e4e" stroke-width="1.2" fill="none" opacity="0.8"/><ellipse cx="435.6" cy="515.51" rx="1.6" ry="2.1" fill="#e04a64" opacity="0.85"/><rect x="434.9" y="520.8" width="1.8" height="2" fill="#1a5a78" opacity="0.7"/><rect x="434.9" y="525.38" width="1.8" height="2" fill="#1a5a78" opacity="0.7"/><rect x="431.9" y="160.75" width="7.4" height="42" rx="3.7" fill="#9000a0" opacity="0.85" filter="url(#gl)"/><rect x="433.8" y="163.75" width="3.6" height="36" rx="1.5" fill="#d030d8"/><path d="M434.7 166.85 L436.5 165.05 M434.7 170.25 L436.5 168.45 M434.7 173.65 L436.5 171.85 M434.7 177.05 L436.5 175.25 M434.7 180.45 L436.5 178.65 M434.7 183.85 L436.5 182.05 M434.7 187.25 L436.5 185.45 M434.7 190.65 L436.5 188.85 M434.7 194.05 L436.5 192.25 M434.7 197.45 L436.5 195.65" stroke="#ffa0ff" stroke-width="1.2" stroke-linecap="round" fill="none" opacity="0.85" filter="url(#sb)"/><rect x="431.8" y="202.25" width="7.6" height="16.5" rx="3.8" fill="#0c14b0" opacity="0.9" filter="url(#gl)"/><rect x="433.8" y="204.25" width="3.6" height="12.5" rx="1.5" fill="#4896ff"/><path d="M434.7 207.35 L436.5 205.55 M434.7 210.75 L436.5 208.95 M434.7 214.15 L436.5 212.35" stroke="#a8dcff" stroke-width="1.2" stroke-linecap="round" fill="none" opacity="0.85" filter="url(#sb)"/><rect x="431.9" y="217.75" width="7.4" height="23.5" rx="3.7" fill="#9000a0" opacity="0.85" filter="url(#gl)"/><rect x="433.8" y="220.75" width="3.6" height="17.5" rx="1.5" fill="#d030d8"/><path d="M434.7 223.85 L436.5 222.05 M434.7 227.25 L436.5 225.45 M434.7 230.65 L436.5 228.85 M434.7 234.05 L436.5 232.25 M434.7 237.45 L436.5 235.65" stroke="#ffa0ff" stroke-width="1.2" stroke-linecap="round" fill="none" opacity="0.85" filter="url(#sb)"/><rect x="431.8" y="240.25" width="7.6" height="14.5" rx="3.8" fill="#0c14b0" opacity="0.9" filter="url(#gl)"/><rect x="433.8" y="242.25" width="3.6" height="10.5" rx="1.5" fill="#4896ff"/><path d="M434.7 245.35 L436.5 243.55 M434.7 248.75 L436.5 246.95 M434.7 252.15 L436.5 250.35" stroke="#a8dcff" stroke-width="1.2" stroke-linecap="round" fill="none" opacity="0.85" filter="url(#sb)"/><rect x="431.9" y="253.25" width="7.4" height="22.5" rx="3.7" fill="#9000a0" opacity="0.85" filter="url(#gl)"/><rect x="433.8" y="256.25" width="3.6" height="16.5" rx="1.5" fill="#d030d8"/><path d="M434.7 259.35 L436.5 257.55 M434.7 262.75 L436.5 260.95 M434.7 266.15 L436.5 264.35 M434.7 269.55 L436.5 267.75" stroke="#ffa0ff" stroke-width="1.2" stroke-linecap="round" fill="none" opacity="0.85" filter="url(#sb)"/><rect x="431.8" y="318.75" width="7.6" height="14.5" rx="3.8" fill="#0c14b0" opacity="0.9" filter="url(#gl)"/><rect x="433.8" y="320.75" width="3.6" height="10.5" rx="1.5" fill="#4896ff"/><path d="M434.7 323.85 L436.5 322.05 M434.7 327.25 L436.5 325.45 M434.7 330.65 L436.5 328.85" stroke="#a8dcff" stroke-width="1.2" stroke-linecap="round" fill="none" opacity="0.85" filter="url(#sb)"/></g>
<g><rect x="504.7" y="549" width="2.8" height="196" fill="url(#tailg)"/><rect x="504.95" y="744.7" width="2.4" height="12.3" rx="1.1" fill="#ecece8"/><rect x="504.5" y="263.25" width="3.8" height="161.75" fill="url(#stemg)"/><rect x="505.1" y="154.25" width="2.6" height="109" fill="#2a1a2a"/><path d="M504.5 424 L508.3 424 L508.7 446 L504.1 446 Z" fill="url(#stemg)"/><path d="M506 425 L506.8 425 L507.9 446 L504.9 446 Z" fill="#121212"/><path d="M505.1 431 L504.6 446 M507.7 431 L508.2 446" stroke="#7a7a7a" stroke-width="0.6" fill="none"/><path d="M504.2 446.4 L508.6 446.4 L509.2 455 L503.6 455 Z" fill="#070707"/><path d="M504.6 447.2 L503.9 454.7 M508.2 447.2 L508.9 454.7" stroke="#9a9a9a" stroke-width="0.7" fill="none"/><path d="M503.6 455.5 C502.8 456.5 502.8 459.2 503.7 460.3 C502.8 461.4 502.8 464.5 503.4 466.2 L509.4 466.2 C510 464.5 510 461.4 509.1 460.3 C510 459.2 510 456.5 509.2 455.5 Z" fill="#030303" stroke="#777" stroke-width="0.6"/><path d="M500.6 467.32 C501.3 466.2 503.9 465.7 506.4 465.7 C508.9 465.7 511.5 466.2 512.2 467.32 L512.65 468.64 L513.06 469.96 L513.43 471.29 L513.75 472.61 L514.04 473.93 L514.28 475.25 L514.49 476.57 L514.66 477.89 L514.79 479.21 L514.89 480.54 L514.95 481.86 L514.99 483.18 L515 484.5 L514.4 488.53 L513.81 492.56 L513.23 496.59 L512.66 500.62 L512.1 504.66 L511.56 508.69 L511.02 512.72 L510.49 516.75 L509.98 520.78 L509.49 524.81 L509.01 528.84 L508.55 532.88 L508.12 536.91 L507.72 540.94 L507.36 544.97 L507.1 549 L505.7 549 L505.44 544.97 L505.08 540.94 L504.68 536.91 L504.25 532.88 L503.79 528.84 L503.31 524.81 L502.82 520.78 L502.31 516.75 L501.78 512.72 L501.24 508.69 L500.7 504.66 L500.14 500.62 L499.57 496.59 L498.99 492.56 L498.4 488.53 L497.8 484.5 L497.81 483.18 L497.85 481.86 L497.91 480.54 L498.01 479.21 L498.14 477.89 L498.31 476.57 L498.52 475.25 L498.76 473.93 L499.05 472.61 L499.37 471.29 L499.74 469.96 L500.15 468.64 Z" fill="url(#bodyg4)"/><path d="M500.6 467.32 C501.3 466.2 503.9 465.7 506.4 465.7 C508.9 465.7 511.5 466.2 512.2 467.32 L512.65 468.64 L513.06 469.96 L513.43 471.29 L513.75 472.61 L514.04 473.93 L514.28 475.25 L514.49 476.57 L514.66 477.89 L514.79 479.21 L514.89 480.54 L514.95 481.86 L514.99 483.18 L515 484.5 L514.4 488.53 L513.81 492.56 L513.23 496.59 L512.66 500.62 L512.1 504.66 L511.56 508.69 L511.02 512.72 L510.49 516.75 L509.98 520.78 L509.49 524.81 L509.01 528.84 L508.55 532.88 L508.12 536.91 L507.72 540.94 L507.36 544.97 L507.1 549 L505.7 549 L505.44 544.97 L505.08 540.94 L504.68 536.91 L504.25 532.88 L503.79 528.84 L503.31 524.81 L502.82 520.78 L502.31 516.75 L501.78 512.72 L501.24 508.69 L500.7 504.66 L500.14 500.62 L499.57 496.59 L498.99 492.56 L498.4 488.53 L497.8 484.5 L497.81 483.18 L497.85 481.86 L497.91 480.54 L498.01 479.21 L498.14 477.89 L498.31 476.57 L498.52 475.25 L498.76 473.93 L499.05 472.61 L499.37 471.29 L499.74 469.96 L500.15 468.64 Z" fill="url(#bodyh)"/><rect x="501.9" y="467.2" width="9" height="0.6" fill="#ffd0c0" opacity="0.5"/><rect x="503.4" y="470.6" width="6" height="1.1" fill="#b84858" opacity="0.35"/><rect x="503" y="482.6" width="2.6" height="14.94" fill="#f05070" opacity="0.35"/><path d="M503.2 483.6 V497.54 H508.9" stroke="#b02848" stroke-width="0.7" fill="none" opacity="0.8"/><rect x="504.6" y="488.58" width="1.4" height="2.4" fill="#e02848" opacity="0.7"/><rect x="506.4" y="483.1" width="2.4" height="3.38" rx="0.8" fill="#6a1e50" opacity="0.75"/><rect x="507.2" y="488.08" width="2.4" height="3.38" rx="0.8" fill="#6a1e50" opacity="0.75"/><rect x="507.2" y="493.06" width="2.4" height="3.38" rx="0.8" fill="#6a1e50" opacity="0.75"/><path d="M502.6 501.52 Q504.4 503.72 506.4 503.12 Q508.4 503.72 510.2 501.52" stroke="#5a1e4e" stroke-width="1.2" fill="none" opacity="0.8"/><ellipse cx="506.4" cy="509.57" rx="1.6" ry="2.1" fill="#e04a64" opacity="0.85"/><rect x="505.7" y="515.8" width="1.8" height="2" fill="#1a5a78" opacity="0.7"/><rect x="505.7" y="521.2" width="1.8" height="2" fill="#1a5a78" opacity="0.7"/><rect x="502.7" y="151.25" width="7.4" height="42" rx="3.7" fill="#9000a0" opacity="0.85" filter="url(#gl)"/><rect x="504.6" y="154.25" width="3.6" height="36" rx="1.5" fill="#d030d8"/><path d="M505.5 157.35 L507.3 155.55 M505.5 160.75 L507.3 158.95 M505.5 164.15 L507.3 162.35 M505.5 167.55 L507.3 165.75 M505.5 170.95 L507.3 169.15 M505.5 174.35 L507.3 172.55 M505.5 177.75 L507.3 175.95 M505.5 181.15 L507.3 179.35 M505.5 184.55 L507.3 182.75 M505.5 187.95 L507.3 186.15" stroke="#ffa0ff" stroke-width="1.2" stroke-linecap="round" fill="none" opacity="0.85" filter="url(#sb)"/><rect x="502.6" y="192.75" width="7.6" height="16.5" rx="3.8" fill="#0c14b0" opacity="0.9" filter="url(#gl)"/><rect x="504.6" y="194.75" width="3.6" height="12.5" rx="1.5" fill="#4896ff"/><path d="M505.5 197.85 L507.3 196.05 M505.5 201.25 L507.3 199.45 M505.5 204.65 L507.3 202.85" stroke="#a8dcff" stroke-width="1.2" stroke-linecap="round" fill="none" opacity="0.85" filter="url(#sb)"/><rect x="502.7" y="208.25" width="7.4" height="23.5" rx="3.7" fill="#9000a0" opacity="0.85" filter="url(#gl)"/><rect x="504.6" y="211.25" width="3.6" height="17.5" rx="1.5" fill="#d030d8"/><path d="M505.5 214.35 L507.3 212.55 M505.5 217.75 L507.3 215.95 M505.5 221.15 L507.3 219.35 M505.5 224.55 L507.3 222.75 M505.5 227.95 L507.3 226.15" stroke="#ffa0ff" stroke-width="1.2" stroke-linecap="round" fill="none" opacity="0.85" filter="url(#sb)"/><rect x="502.6" y="230.75" width="7.6" height="14.5" rx="3.8" fill="#0c14b0" opacity="0.9" filter="url(#gl)"/><rect x="504.6" y="232.75" width="3.6" height="10.5" rx="1.5" fill="#4896ff"/><path d="M505.5 235.85 L507.3 234.05 M505.5 239.25 L507.3 237.45 M505.5 242.65 L507.3 240.85" stroke="#a8dcff" stroke-width="1.2" stroke-linecap="round" fill="none" opacity="0.85" filter="url(#sb)"/><rect x="502.7" y="243.75" width="7.4" height="22.5" rx="3.7" fill="#9000a0" opacity="0.85" filter="url(#gl)"/><rect x="504.6" y="246.75" width="3.6" height="16.5" rx="1.5" fill="#d030d8"/><path d="M505.5 249.85 L507.3 248.05 M505.5 253.25 L507.3 251.45 M505.5 256.65 L507.3 254.85 M505.5 260.05 L507.3 258.25" stroke="#ffa0ff" stroke-width="1.2" stroke-linecap="round" fill="none" opacity="0.85" filter="url(#sb)"/><rect x="502.6" y="309.25" width="7.6" height="14.5" rx="3.8" fill="#0c14b0" opacity="0.9" filter="url(#gl)"/><rect x="504.6" y="311.25" width="3.6" height="10.5" rx="1.5" fill="#4896ff"/><path d="M505.5 314.35 L507.3 312.55 M505.5 317.75 L507.3 315.95 M505.5 321.15 L507.3 319.35" stroke="#a8dcff" stroke-width="1.2" stroke-linecap="round" fill="none" opacity="0.85" filter="url(#sb)"/></g>
<g><rect x="572.8" y="549" width="2.8" height="196" fill="url(#tailg)"/><rect x="573.05" y="744.7" width="2.4" height="12.3" rx="1.1" fill="#ecece8"/><rect x="572.6" y="257" width="3.8" height="160" fill="url(#stemg)"/><rect x="573.2" y="148" width="2.6" height="109" fill="#2a1a2a"/><path d="M572.6 416 L576.4 416 L576.8 438 L572.2 438 Z" fill="url(#stemg)"/><path d="M574.1 417 L574.9 417 L576 438 L573 438 Z" fill="#121212"/><path d="M573.2 423 L572.7 438 M575.8 423 L576.3 438" stroke="#7a7a7a" stroke-width="0.6" fill="none"/><path d="M572.3 438.4 L576.7 438.4 L577.3 447 L571.7 447 Z" fill="#070707"/><path d="M572.7 439.2 L572 446.7 M576.3 439.2 L577 446.7" stroke="#9a9a9a" stroke-width="0.7" fill="none"/><path d="M571.7 447.5 C570.9 448.5 570.9 451.2 571.8 452.3 C570.9 453.4 570.9 456.5 571.5 458.2 L577.5 458.2 C578.1 456.5 578.1 453.4 577.2 452.3 C578.1 451.2 578.1 448.5 577.3 447.5 Z" fill="#030303" stroke="#777" stroke-width="0.6"/><path d="M568.57 459.41 C569.28 458.2 572 457.7 574.5 457.7 C577 457.7 579.72 458.2 580.43 459.41 L580.89 460.81 L581.31 462.22 L581.69 463.63 L582.02 465.04 L582.31 466.44 L582.56 467.85 L582.78 469.26 L582.95 470.66 L583.09 472.07 L583.19 473.48 L583.25 474.89 L583.29 476.29 L583.3 477.7 L582.69 482.16 L582.08 486.61 L581.49 491.07 L580.91 495.52 L580.33 499.98 L579.77 504.44 L579.22 508.89 L578.68 513.35 L578.16 517.81 L577.65 522.26 L577.16 526.72 L576.69 531.17 L576.25 535.63 L575.84 540.09 L575.47 544.54 L575.2 549 L573.8 549 L573.53 544.54 L573.16 540.09 L572.75 535.63 L572.31 531.17 L571.84 526.72 L571.35 522.26 L570.84 517.81 L570.32 513.35 L569.78 508.89 L569.23 504.44 L568.67 499.98 L568.09 495.52 L567.51 491.07 L566.92 486.61 L566.31 482.16 L565.7 477.7 L565.71 476.29 L565.75 474.89 L565.81 473.48 L565.91 472.07 L566.05 470.66 L566.22 469.26 L566.44 467.85 L566.69 466.44 L566.98 465.04 L567.31 463.63 L567.69 462.22 L568.11 460.81 Z" fill="url(#bodyg5)"/><path d="M568.57 459.41 C569.28 458.2 572 457.7 574.5 457.7 C577 457.7 579.72 458.2 580.43 459.41 L580.89 460.81 L581.31 462.22 L581.69 463.63 L582.02 465.04 L582.31 466.44 L582.56 467.85 L582.78 469.26 L582.95 470.66 L583.09 472.07 L583.19 473.48 L583.25 474.89 L583.29 476.29 L583.3 477.7 L582.69 482.16 L582.08 486.61 L581.49 491.07 L580.91 495.52 L580.33 499.98 L579.77 504.44 L579.22 508.89 L578.68 513.35 L578.16 517.81 L577.65 522.26 L577.16 526.72 L576.69 531.17 L576.25 535.63 L575.84 540.09 L575.47 544.54 L575.2 549 L573.8 549 L573.53 544.54 L573.16 540.09 L572.75 535.63 L572.31 531.17 L571.84 526.72 L571.35 522.26 L570.84 517.81 L570.32 513.35 L569.78 508.89 L569.23 504.44 L568.67 499.98 L568.09 495.52 L567.51 491.07 L566.92 486.61 L566.31 482.16 L565.7 477.7 L565.71 476.29 L565.75 474.89 L565.81 473.48 L565.91 472.07 L566.05 470.66 L566.22 469.26 L566.44 467.85 L566.69 466.44 L566.98 465.04 L567.31 463.63 L567.69 462.22 L568.11 460.81 Z" fill="url(#bodyh)"/><rect x="569.88" y="459.2" width="9.24" height="0.6" fill="#ffd0c0" opacity="0.5"/><rect x="571.5" y="462.6" width="6" height="1.1" fill="#b84858" opacity="0.35"/><rect x="571.1" y="476.2" width="2.6" height="16.38" fill="#f05070" opacity="0.35"/><path d="M571.3 477.2 V492.58 H577" stroke="#b02848" stroke-width="0.7" fill="none" opacity="0.8"/><rect x="572.7" y="482.75" width="1.4" height="2.4" fill="#e02848" opacity="0.7"/><rect x="574.5" y="476.7" width="2.4" height="3.86" rx="0.8" fill="#6a1e50" opacity="0.75"/><rect x="575.3" y="482.16" width="2.4" height="3.86" rx="0.8" fill="#6a1e50" opacity="0.75"/><rect x="575.3" y="487.62" width="2.4" height="3.86" rx="0.8" fill="#6a1e50" opacity="0.75"/><path d="M570.7 497.04 Q572.5 499.24 574.5 498.64 Q576.5 499.24 578.3 497.04" stroke="#5a1e4e" stroke-width="1.2" fill="none" opacity="0.8"/><ellipse cx="574.5" cy="505.77" rx="1.6" ry="2.1" fill="#e04a64" opacity="0.85"/><rect x="573.8" y="512.6" width="1.8" height="2" fill="#1a5a78" opacity="0.7"/><rect x="573.8" y="518.51" width="1.8" height="2" fill="#1a5a78" opacity="0.7"/><rect x="570.8" y="145" width="7.4" height="42" rx="3.7" fill="#9000a0" opacity="0.85" filter="url(#gl)"/><rect x="572.7" y="148" width="3.6" height="36" rx="1.5" fill="#d030d8"/><path d="M573.6 151.1 L575.4 149.3 M573.6 154.5 L575.4 152.7 M573.6 157.9 L575.4 156.1 M573.6 161.3 L575.4 159.5 M573.6 164.7 L575.4 162.9 M573.6 168.1 L575.4 166.3 M573.6 171.5 L575.4 169.7 M573.6 174.9 L575.4 173.1 M573.6 178.3 L575.4 176.5 M573.6 181.7 L575.4 179.9" stroke="#ffa0ff" stroke-width="1.2" stroke-linecap="round" fill="none" opacity="0.85" filter="url(#sb)"/><rect x="570.7" y="186.5" width="7.6" height="16.5" rx="3.8" fill="#0c14b0" opacity="0.9" filter="url(#gl)"/><rect x="572.7" y="188.5" width="3.6" height="12.5" rx="1.5" fill="#4896ff"/><path d="M573.6 191.6 L575.4 189.8 M573.6 195 L575.4 193.2 M573.6 198.4 L575.4 196.6" stroke="#a8dcff" stroke-width="1.2" stroke-linecap="round" fill="none" opacity="0.85" filter="url(#sb)"/><rect x="570.8" y="202" width="7.4" height="23.5" rx="3.7" fill="#9000a0" opacity="0.85" filter="url(#gl)"/><rect x="572.7" y="205" width="3.6" height="17.5" rx="1.5" fill="#d030d8"/><path d="M573.6 208.1 L575.4 206.3 M573.6 211.5 L575.4 209.7 M573.6 214.9 L575.4 213.1 M573.6 218.3 L575.4 216.5 M573.6 221.7 L575.4 219.9" stroke="#ffa0ff" stroke-width="1.2" stroke-linecap="round" fill="none" opacity="0.85" filter="url(#sb)"/><rect x="570.7" y="224.5" width="7.6" height="14.5" rx="3.8" fill="#0c14b0" opacity="0.9" filter="url(#gl)"/><rect x="572.7" y="226.5" width="3.6" height="10.5" rx="1.5" fill="#4896ff"/><path d="M573.6 229.6 L575.4 227.8 M573.6 233 L575.4 231.2 M573.6 236.4 L575.4 234.6" stroke="#a8dcff" stroke-width="1.2" stroke-linecap="round" fill="none" opacity="0.85" filter="url(#sb)"/><rect x="570.8" y="237.5" width="7.4" height="22.5" rx="3.7" fill="#9000a0" opacity="0.85" filter="url(#gl)"/><rect x="572.7" y="240.5" width="3.6" height="16.5" rx="1.5" fill="#d030d8"/><path d="M573.6 243.6 L575.4 241.8 M573.6 247 L575.4 245.2 M573.6 250.4 L575.4 248.6 M573.6 253.8 L575.4 252" stroke="#ffa0ff" stroke-width="1.2" stroke-linecap="round" fill="none" opacity="0.85" filter="url(#sb)"/><rect x="570.7" y="303" width="7.6" height="14.5" rx="3.8" fill="#0c14b0" opacity="0.9" filter="url(#gl)"/><rect x="572.7" y="305" width="3.6" height="10.5" rx="1.5" fill="#4896ff"/><path d="M573.6 308.1 L575.4 306.3 M573.6 311.5 L575.4 309.7 M573.6 314.9 L575.4 313.1" stroke="#a8dcff" stroke-width="1.2" stroke-linecap="round" fill="none" opacity="0.85" filter="url(#sb)"/></g>
<rect x="239.7" y="677.9" width="20.9" height="23.9" fill="#f23a58"/>
<rect x="239.7" y="701.7" width="20.9" height="53.9" fill="#1ab6f2"/>
<text x="250.15" y="697.6" text-anchor="middle" class="num">1</text>
<text transform="translate(243 706.4) rotate(90)" x="0" y="0" textLength="48.9" lengthAdjust="spacingAndGlyphs" class="bm">BM01</text>
<rect x="305.2" y="677.9" width="20.9" height="23.9" fill="#f23a58"/>
<rect x="305.2" y="701.7" width="20.9" height="53.9" fill="#1ab6f2"/>
<text x="315.65" y="697.6" text-anchor="middle" class="num">2</text>
<text transform="translate(308.5 706.4) rotate(90)" x="0" y="0" textLength="48.9" lengthAdjust="spacingAndGlyphs" class="bm">BM01</text>
<rect x="374.9" y="677.9" width="20.9" height="23.9" fill="#f23a58"/>
<rect x="374.9" y="701.7" width="20.9" height="53.9" fill="#1ab6f2"/>
<text x="385.35" y="697.6" text-anchor="middle" class="num">3</text>
<text transform="translate(378.2 706.4) rotate(90)" x="0" y="0" textLength="48.9" lengthAdjust="spacingAndGlyphs" class="bm">BM01</text>
<rect x="445.8" y="677.9" width="20.9" height="23.9" fill="#f23a58"/>
<rect x="445.8" y="701.7" width="20.9" height="53.9" fill="#1ab6f2"/>
<text x="456.25" y="697.6" text-anchor="middle" class="num">4</text>
<text transform="translate(449.1 706.4) rotate(90)" x="0" y="0" textLength="48.9" lengthAdjust="spacingAndGlyphs" class="bm">BM01</text>
<rect x="513.9" y="677.9" width="20.9" height="23.9" fill="#f23a58"/>
<rect x="513.9" y="701.7" width="20.9" height="53.9" fill="#1ab6f2"/>
<text x="524.35" y="697.6" text-anchor="middle" class="num">5</text>
<text transform="translate(517.2 706.4) rotate(90)" x="0" y="0" textLength="48.9" lengthAdjust="spacingAndGlyphs" class="bm">BM01</text>
<rect x="585.9" y="677.9" width="20.9" height="23.9" fill="#f23a58"/>
<rect x="585.9" y="701.7" width="20.9" height="53.9" fill="#1ab6f2"/>
<text x="596.35" y="697.6" text-anchor="middle" class="num">6</text>
<text transform="translate(589.2 706.4) rotate(90)" x="0" y="0" textLength="48.9" lengthAdjust="spacingAndGlyphs" class="bm">BM01</text>
</svg>
</body></html>
